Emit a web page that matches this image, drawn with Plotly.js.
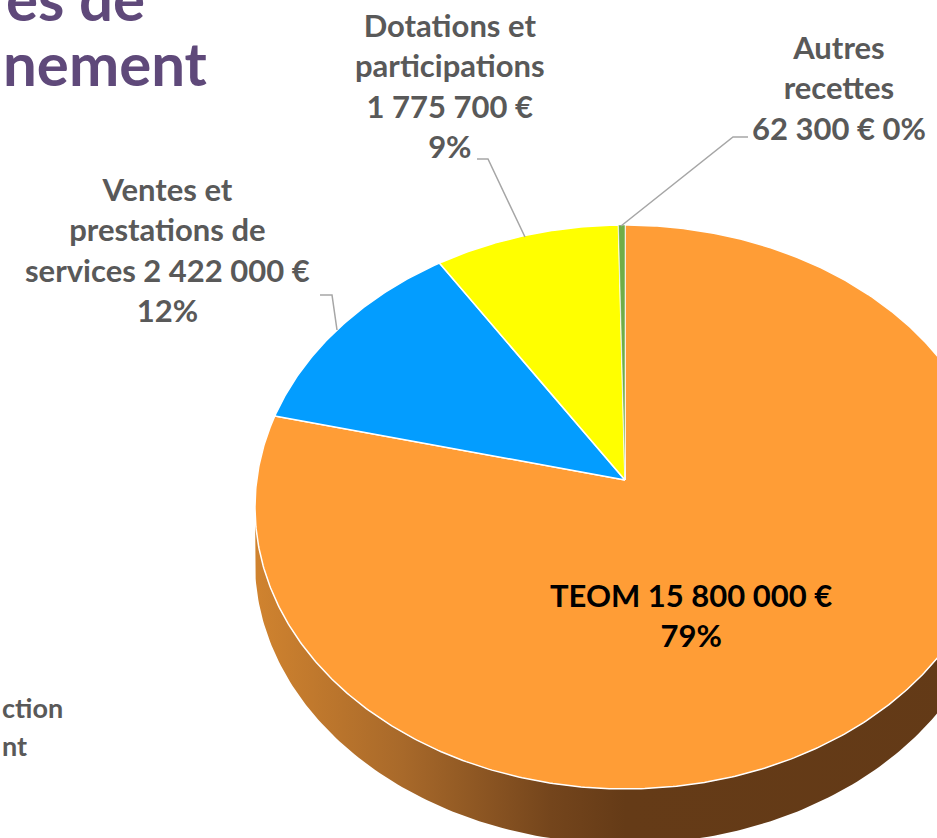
<!DOCTYPE html>
<html><head><meta charset="utf-8">
<script src="https://cdn.plot.ly/plotly-3.0.1.min.js"></script>
<style>html,body{margin:0;padding:0;background:#fff;overflow:hidden}#chart{width:937px;height:838px}</style>
</head><body><div id="chart"></div>
<script>
// ---- data ----
const categories = ["TEOM", "Ventes et prestations de services", "Dotations et participations", "Autres recettes"];
const values = [15800000, 2422000, 1775700, 62300];
const currency = "€";

// ---- styles / layout constants ----
const sliceColors = ["#FF9D36", "#039DFF", "#FFFF00", "#70AD47"];
const W = 937, H = 838;
const CX = 625, CY = 480, A = 368.3, B = 279.4, K = 0.0957, DEPTH = 55;
const LABEL_FONT = "Lato, 'Open Sans', sans-serif";

function fmt(v){ return String(v).replace(/\B(?=(\d{3})+(?!\d))/g, " "); }
const total = values.reduce((a,b)=>a+b,0);
const pct = values.map(v => Math.round(v/total*100) + "%");

// perspective projection of a point of the (tilted) disc, theta clockwise from top
function proj(theta, dz){
  const u = Math.sin(theta), v = Math.cos(theta);
  const s = 1 + K*v;
  return [CX + A*u/s, CY - B*v/s + (dz||0)];
}

const traces = [];
// side wall (front half)
(function(){
  const t1 = Math.acos(-K), t2 = 2*Math.PI - Math.acos(-K);
  const xs = [], ys = [];
  const N = 200;
  for (let i=0;i<=N;i++){ const p = proj(t1 + (t2-t1)*i/N); xs.push(p[0]); ys.push(p[1]); }
  for (let i=N;i>=0;i--){ const p = proj(t1 + (t2-t1)*i/N, DEPTH); xs.push(p[0]); ys.push(p[1]); }
  traces.push({type:"scatter", mode:"lines", x:xs, y:ys, fill:"toself",
    line:{width:0, color:"rgba(0,0,0,0)"},
    fillgradient:{type:"horizontal", colorscale:[[0,"#d0832f"],[0.2,"#a8692a"],[0.4,"#74451c"],[0.5,"#653b17"],[1,"#633a17"]]},
    hoverinfo:"skip", showlegend:false});
})();

// top face slices
let cum = 0;
values.forEach((v,i)=>{
  const f0 = cum/total, f1 = (cum+v)/total; cum += v;
  const t0 = f0*2*Math.PI, t1 = f1*2*Math.PI;
  const n = Math.max(2, Math.ceil((f1-f0)*720));
  const xs=[CX], ys=[CY];
  for (let j=0;j<=n;j++){ const p = proj(t0 + (t1-t0)*j/n); xs.push(p[0]); ys.push(p[1]); }
  xs.push(CX); ys.push(CY);
  traces.push({type:"scatter", mode:"lines", x:xs, y:ys, fill:"toself",
    fillcolor:sliceColors[i], line:{color:"#ffffff", width: i===3 ? 0.5 : 1.5},
    name:categories[i], hoverinfo:"name", showlegend:false});
});

// ---- labels ----
const px = x => x / W, py = y => 1 - y / H;
const labelTexts = [
  categories[0] + " " + fmt(values[0]) + " " + currency + "<br>" + pct[0],
  "Ventes et<br>prestations de<br>services " + fmt(values[1]) + " " + currency + "<br>" + pct[1],
  "Dotations et<br>participations<br>" + fmt(values[2]) + " " + currency + "<br>" + pct[2],
  "Autres<br>recettes<br>" + fmt(values[3]) + " " + currency + " " + pct[3]
];
const labelPos = [[691,615],[167,249],[450,85],[839,88]];
const annotations = labelTexts.map((t,i)=>({
  xref:"paper", yref:"paper", x:px(labelPos[i][0]), y:py(labelPos[i][1]),
  xanchor:"center", yanchor:"middle", showarrow:false, align:"center",
  text:t, font:{family:LABEL_FONT, size:31, weight:700, color: i===0 ? "#000000" : "#595959"}
}));
// slide fragments around the chart
annotations.push(
  {xref:"paper", yref:"paper", x:px(147), y:py(-2), xanchor:"right", yanchor:"middle", showarrow:false,
   text:"es de", font:{family:LABEL_FONT, size:60, weight:700, color:"#5F497A"}},
  {xref:"paper", yref:"paper", x:px(1), y:py(63), xanchor:"left", yanchor:"middle", showarrow:false,
   text:"nement", font:{family:LABEL_FONT, size:60, weight:700, color:"#5F497A"}},
  {xref:"paper", yref:"paper", x:px(0), y:py(707), xanchor:"left", yanchor:"middle", showarrow:false,
   text:"ction", font:{family:LABEL_FONT, size:27, weight:700, color:"#595959"}},
  {xref:"paper", yref:"paper", x:px(0), y:py(745), xanchor:"left", yanchor:"middle", showarrow:false,
   text:"nt", font:{family:LABEL_FONT, size:27, weight:700, color:"#595959"}}
);

const leader = {type:"path", xref:"x", yref:"y", line:{color:"#A6A6A6", width:1.5}};
const shapes = [
  Object.assign({path:"M477,159 L488,159 L525,237"}, leader),
  Object.assign({path:"M748,137 L733,137 L621,226"}, leader),
  Object.assign({path:"M320,295 L332,295 L337,330"}, leader)
];

const layout = {
  width:W, height:H, margin:{l:0,r:0,t:0,b:0},
  paper_bgcolor:"#ffffff", plot_bgcolor:"#ffffff",
  xaxis:{range:[0,W], visible:false, fixedrange:true},
  yaxis:{range:[H,0], visible:false, fixedrange:true},
  showlegend:false, annotations:annotations, shapes:shapes
};
Plotly.newPlot("chart", traces, layout, {displayModeBar:false, staticPlot:true});
</script></body></html>
